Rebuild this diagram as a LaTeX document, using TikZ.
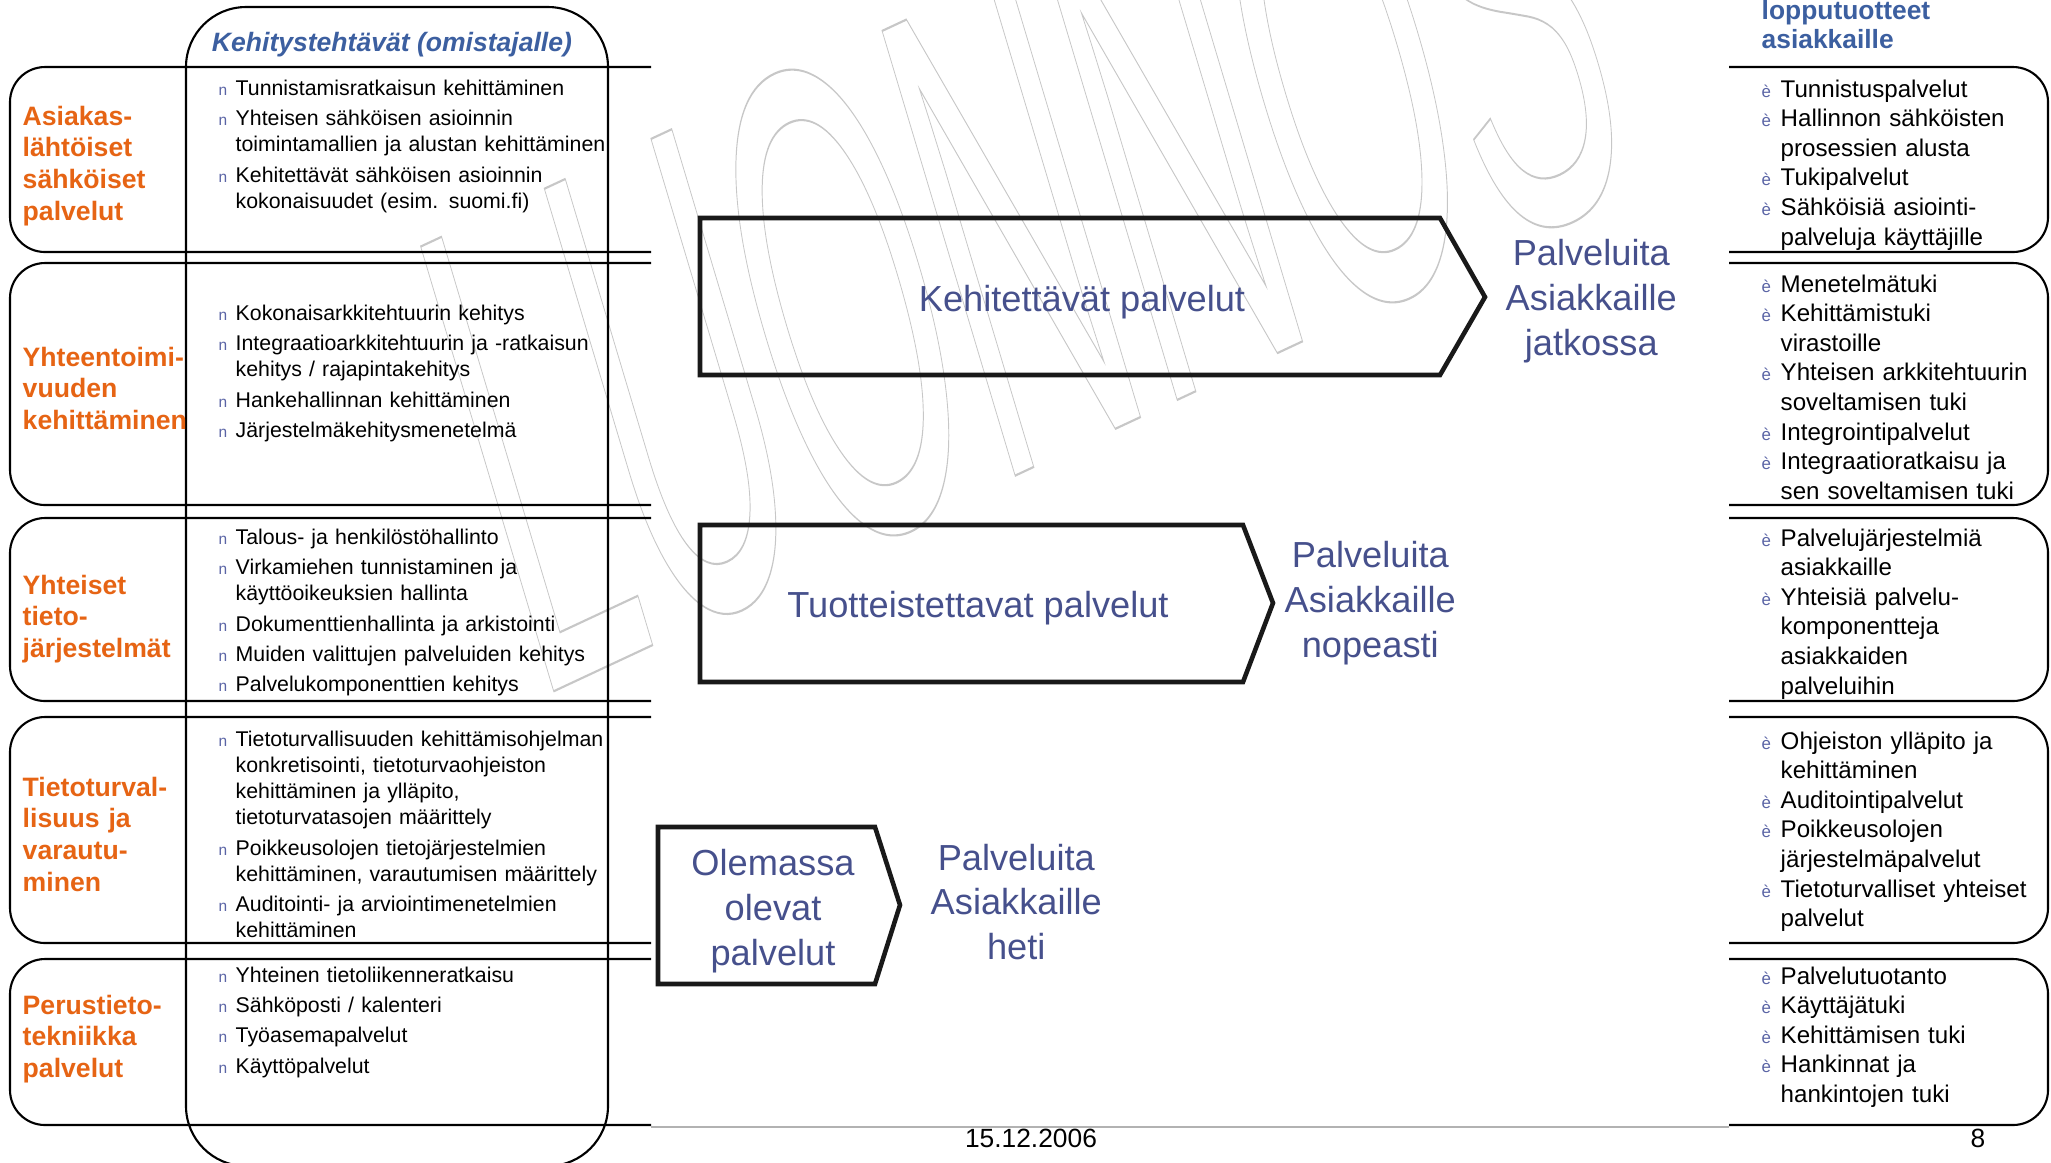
\documentclass[tikz,border=0pt]{standalone}
\usepackage{fontspec}
\setmainfont{Liberation Sans}
\usepackage{tikz}
\usetikzlibrary{positioning}

\definecolor{rowor}{RGB}{230,100,20}
\definecolor{headblue}{RGB}{60,95,160}
\definecolor{svcblue}{RGB}{70,80,140}
\definecolor{bulblue}{RGB}{90,100,165}

% bullets of the two lists
\newcommand\kitem[1]{\parskip=1.2pt\hangindent=0.17cm\hangafter=1%
  \makebox[0.17cm][l]{\textcolor{bulblue}{\fontsize{4.4}{5}\selectfont n}}#1\par}
\newcommand\ritem[1]{\hangindent=0.19cm\hangafter=1%
  \makebox[0.19cm][l]{\textcolor{bulblue}{\fontsize{4.8}{5}\selectfont è}}#1\par}
% outlined letters for the draft mark
\newcommand\wmtext[1]{\special{pdf:literal direct 0.5 w 1 Tr}#1\special{pdf:literal direct 0 Tr}}

\begin{document}
\begin{tikzpicture}[x=0.01cm,y=-0.01cm,
   rowline/.style={line width=0.6pt,rounded corners=0.35cm},
   colline/.style={line width=0.6pt,rounded corners=0.6cm},
   arrowbox/.style={draw=black!90,line width=1.3pt},
   rowlabel/.style={anchor=base west,inner sep=0pt,text width=2.3cm,align=left,
     text=rowor,font=\fontsize{7.57}{9.08}\selectfont\bfseries},
   leftitems/.style={anchor=base west,inner sep=0pt,text width=4.3cm,align=left,
     font=\fontsize{6.06}{7.45}\selectfont},
   rightitems/.style={anchor=base west,inner sep=0pt,text width=2.9cm,align=left,
     font=\fontsize{6.86}{8.42}\selectfont},
   svc/.style={inner sep=0pt,align=center,text=svcblue,font=\fontsize{10.3}{12.7}\selectfont},
   footer/.style={inner sep=0pt,font=\fontsize{7.5}{9}\selectfont},
   wmark/.style={anchor=base west,inner sep=0pt,text=black!22,
     yscale=1.25,rotate=20.5,xscale=0.434,font=\fontsize{157}{157}\selectfont}]
   \useasboundingbox (0,0) rectangle (2051,1162);

   % draft mark
   \node[wmark] (wm) at (535,700) {\wmtext{LUONNOS}};

   % rows, left and right
   \foreach \t/\b in {67/252,263/505,518/701,717/943,959/1125} {
     \draw[rowline] (651,\t) -- (10,\t) -- (10,\b) -- (651,\b);
     \draw[rowline] (1729,\t) -- (2048,\t) -- (2048,\b) -- (1729,\b);
   }
   \draw[black!30,line width=0.4pt] (651,1127) -- (1729,1127);
   \draw[colline] (186,7) rectangle (608,1166);

   \node[anchor=base,inner sep=0pt,text=headblue,font=\fontsize{7.55}{9}\selectfont\bfseries\itshape]
     (title) at (392,51) {Kehitystehtävät (omistajalle)};
   \node[rightitems,text=headblue,font=\fontsize{7.5}{8.5}\selectfont\bfseries]
     (head) at (1761,19) {lopputuotteet\\asiakkaille};

   \node[rowlabel] (lbl_1) at (22,125) {Asiakas-\\lähtöiset\\sähköiset\\palvelut};
   \node[rowlabel] (lbl_2) at (22,366) {Yhteentoimi-\\vuuden\\kehittäminen};
   \node[rowlabel] (lbl_3) at (22,594) {Yhteiset\\tieto-\\järjestelmät};
   \node[rowlabel] (lbl_4) at (22,796) {Tietoturval-\\lisuus ja\\varautu-\\minen};
   \node[rowlabel] (lbl_5) at (22,1014) {Perustieto-\\tekniikka\\palvelut};

   \node[leftitems] (task_1) at (218,95) {%
     \kitem{Tunnistamisratkaisun kehittäminen}
     \kitem{Yhteisen sähköisen asioinnin\newline toimintamallien ja alustan kehittäminen}
     \kitem{Kehitettävät sähköisen asioinnin\newline kokonaisuudet (esim. suomi.fi)}};
   \node[leftitems] (task_2) at (218,320) {%
     \kitem{Kokonaisarkkitehtuurin kehitys}
     \kitem{Integraatioarkkitehtuurin ja -ratkaisun\newline kehitys / rajapintakehitys}
     \kitem{Hankehallinnan kehittäminen}
     \kitem{Järjestelmäkehitysmenetelmä}};
   \node[leftitems] (task_3) at (218,544) {%
     \kitem{Talous- ja henkilöstöhallinto}
     \kitem{Virkamiehen tunnistaminen ja\newline käyttöoikeuksien hallinta}
     \kitem{Dokumenttienhallinta ja arkistointi}
     \kitem{Muiden valittujen palveluiden kehitys}
     \kitem{Palvelukomponenttien kehitys}};
   \node[leftitems] (task_4) at (218,746) {%
     \kitem{Tietoturvallisuuden kehittämisohjelman\newline konkretisointi, tietoturvaohjeiston\newline
       kehittäminen ja ylläpito,\newline tietoturvatasojen määrittely}
     \kitem{Poikkeusolojen tietojärjestelmien\newline kehittäminen, varautumisen määrittely}
     \kitem{Auditointi- ja arviointimenetelmien\newline kehittäminen}};
   \node[leftitems] (task_5) at (218,982) {%
     \kitem{Yhteinen tietoliikenneratkaisu}
     \kitem{Sähköposti / kalenteri}
     \kitem{Työasemapalvelut}
     \kitem{Käyttöpalvelut}};

   \node[rightitems] (prod_1) at (1761,97) {%
     \ritem{Tunnistuspalvelut}
     \ritem{Hallinnon sähköisten\newline prosessien alusta}
     \ritem{Tukipalvelut}
     \ritem{Sähköisiä asiointi-\newline palveluja käyttäjille}};
   \node[rightitems] (prod_2) at (1761,292) {%
     \ritem{Menetelmätuki}
     \ritem{Kehittämistuki\newline virastoille}
     \ritem{Yhteisen arkkitehtuurin\newline soveltamisen tuki}
     \ritem{Integrointipalvelut}
     \ritem{Integraatioratkaisu ja\newline sen soveltamisen tuki}};
   \node[rightitems] (prod_3) at (1761,546) {%
     \ritem{Palvelujärjestelmiä\newline asiakkaille}
     \ritem{Yhteisiä palvelu-\newline komponentteja\newline asiakkaiden\newline palveluihin}};
   \node[rightitems] (prod_4) at (1761,749) {%
     \ritem{Ohjeiston ylläpito ja\newline kehittäminen}
     \ritem{Auditointipalvelut}
     \ritem{Poikkeusolojen\newline järjestelmäpalvelut}
     \ritem{Tietoturvalliset yhteiset\newline palvelut}};
   \node[rightitems] (prod_5) at (1761,984) {%
     \ritem{Palvelutuotanto}
     \ritem{Käyttäjätuki}
     \ritem{Kehittämisen tuki}
     \ritem{Hankinnat ja\newline hankintojen tuki}};

   % the three service arrows
   \draw[arrowbox] (700,218) -- (1440,218) -- (1485,297) coordinate (tip_1) -- (1440,375) -- (700,375) -- cycle;
   \draw[arrowbox] (700,525) -- (1243,525) -- (1273,603) coordinate (tip_2) -- (1243,682) -- (700,682) -- cycle;
   \draw[arrowbox] (658,827) -- (875,827) -- (900,905) coordinate (tip_3) -- (875,984) -- (658,984) -- cycle;
   \node[svc] (dev) at (1082,302) {Kehitettävät palvelut};
   \node[svc] (prd) at (978,608) {Tuotteistettavat palvelut};
   \node[svc] (old) at (773,911) {Olemassa\\olevat\\palvelut};
   \node[svc,right=0.2cm of tip_1,yshift=-0.04cm] (out_1) {Palveluita\\Asiakkaille\\jatkossa};
   \node[svc,right=0.11cm of tip_2] (out_2) {Palveluita\\Asiakkaille\\nopeasti};
   \node[svc,right=0.3cm of tip_3,yshift=0.03cm] (out_3) {Palveluita\\Asiakkaille\\heti};

   \node[footer] (date) at (1031,1138) {15.12.2006};
   \node[footer] (page) at (1978,1138) {8};
\end{tikzpicture}
\end{document}
